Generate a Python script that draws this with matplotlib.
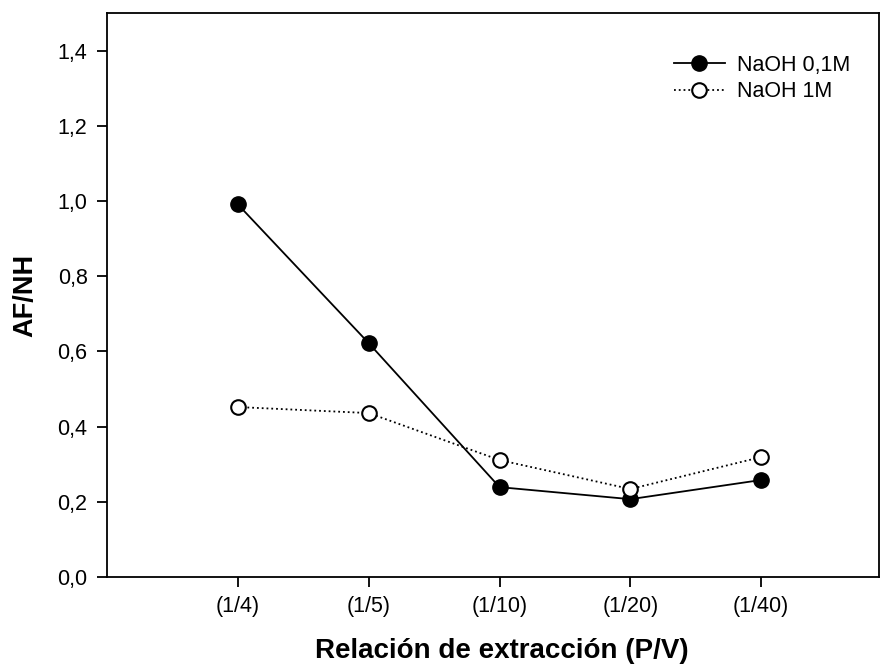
import matplotlib
matplotlib.use('Agg')
import matplotlib.pyplot as plt
from matplotlib.ticker import FuncFormatter

plt.rcParams['font.family'] = ['Liberation Sans', 'DejaVu Sans']

ratios = ['(1/4)', '(1/5)', '(1/10)', '(1/20)', '(1/40)']
naoh_01 = [0.991, 0.622, 0.239, 0.207, 0.258]
naoh_1 = [0.452, 0.436, 0.311, 0.234, 0.319]

fig = plt.figure(figsize=(8.81, 6.67), dpi=100)
# axes box in pixels: left 107, right 879, top 13, bottom 577
ax = fig.add_axes([107 / 881, 90 / 667, 772 / 881, 564 / 667])

x = range(1, len(ratios) + 1)
ax.plot(x, naoh_01, '-', color='black', lw=1.3, marker='o', ms=11,
        mfc='black', mec='black', label='NaOH 0,1M')
ax.plot(x, naoh_1, ':', color='black', lw=1.3, marker='o', ms=10.5,
        mfc='white', mec='black', mew=1.5, label='NaOH 1M')

ax.set_xlim(0, 5.9)
ax.set_ylim(0, 1.5)
ax.set_xticks(list(x))
ax.set_xticklabels(ratios)
ax.set_yticks([0, 0.2, 0.4, 0.6, 0.8, 1.0, 1.2, 1.4])
ax.yaxis.set_major_formatter(FuncFormatter(lambda v, p: f'{v:.1f}'.replace('.', ',')))
ax.tick_params(direction='out', length=7, width=1.3, labelsize=15.5, pad=7)
for s in ax.spines.values():
    s.set_linewidth(1.3)

ax.set_xlabel('Relación de extracción (P/V)', fontsize=20, fontweight='bold')
ax.xaxis.set_label_coords(0.512, -0.108)
ax.set_ylabel('AF/NH', fontsize=19.5, fontweight='bold', labelpad=14)

ax.legend(loc='upper left', bbox_to_anchor=(0.734, 0.926), frameon=False,
          borderpad=0, borderaxespad=0, fontsize=15.5, handlelength=2.4,
          handletextpad=0.55, labelspacing=0.25)

fig.savefig('out.png', dpi=100)
